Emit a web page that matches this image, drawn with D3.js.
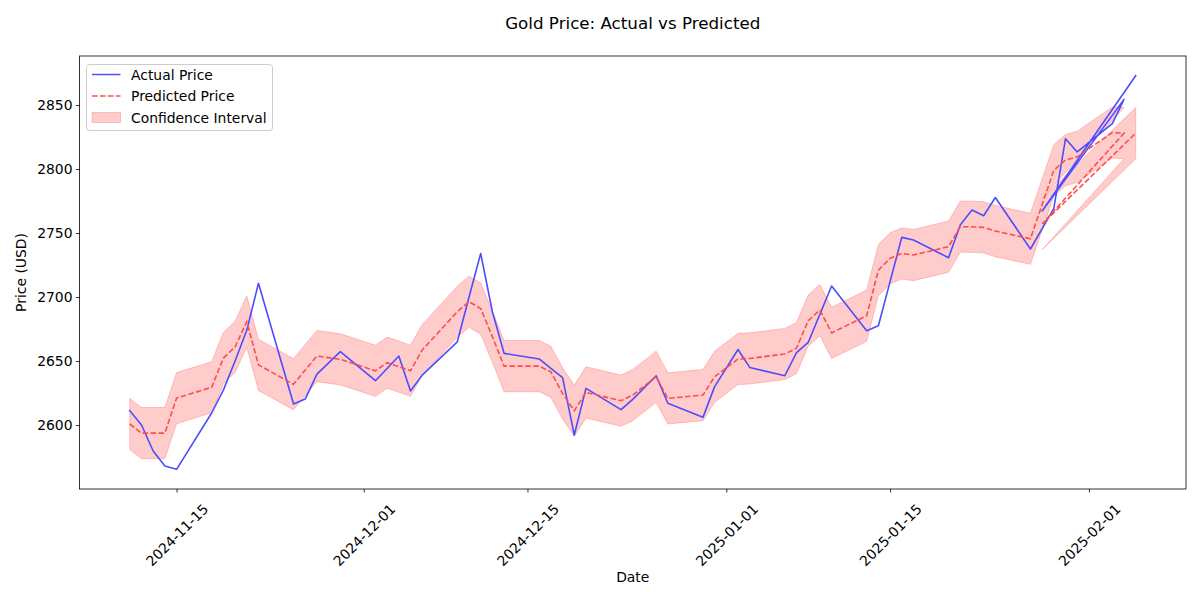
<!DOCTYPE html>
<html><head><meta charset="utf-8">
<script src="https://cdn.jsdelivr.net/npm/d3@7"></script>
<style>body{margin:0;background:#fff} svg{display:block} text{font-family:"DejaVu Sans",sans-serif;fill:#000}</style>
</head><body><svg id="c" width="1200" height="600"></svg>
<script>
const dates = ["2024-11-11","2024-11-12","2024-11-13","2024-11-14","2024-11-15","2024-11-18","2024-11-19","2024-11-20","2024-11-21","2024-11-22",
"2024-11-25","2024-11-26","2024-11-27","2024-11-29","2024-12-02","2024-12-03","2024-12-04","2024-12-05","2024-12-06","2024-12-09",
"2024-12-10","2024-12-11","2024-12-12","2024-12-13","2024-12-16","2024-12-17","2024-12-18","2024-12-19","2024-12-20","2024-12-23",
"2024-12-24","2024-12-26","2024-12-27","2024-12-30","2024-12-31","2025-01-02","2025-01-03","2025-01-06","2025-01-07","2025-01-08",
"2025-01-09","2025-01-10","2025-01-13","2025-01-14","2025-01-15","2025-01-16","2025-01-17","2025-01-20","2025-01-21","2025-01-22",
"2025-01-23","2025-01-24","2025-01-27","2025-01-29","2025-01-30","2025-01-31","2025-02-03","2025-02-04","2025-01-28","2025-02-05"];
const actual = [2611.2,2600.0,2579.7,2568.0,2565.4,2609.4,2627.3,2650.0,2674.0,2710.7,
2616.4,2620.3,2639.8,2657.3,2634.6,2644.2,2653.9,2626.6,2639.0,2665.0,
2699.8,2734.0,2688.5,2656.0,2651.6,2644.3,2637.0,2592.2,2628.6,2612.0,
2620.0,2638.5,2617.0,2606.0,2630.0,2659.0,2645.0,2638.5,2656.5,2664.5,
2686.5,2708.6,2673.7,2677.6,2712.0,2746.6,2744.5,2730.7,2756.3,2768.0,
2763.5,2777.7,2737.5,2769.3,2823.7,2813.3,2835.5,2854.4,2767.2,2872.9];
const predicted = [2600.8,2593.7,2593.7,2593.7,2621.0,2629.5,2652.3,2661.0,2680.7,2647.0,
2631.8,2643.0,2653.9,2651.3,2642.4,2648.7,2645.6,2642.4,2658.6,2688.5,
2696.3,2691.0,2669.0,2646.0,2646.0,2641.6,2624.7,2611.2,2625.5,2619.0,
2623.4,2637.7,2620.8,2623.4,2637.7,2651.6,2652.0,2655.5,2660.0,2681.5,
2689.8,2672.0,2685.4,2721.0,2730.2,2734.0,2732.8,2739.3,2754.9,2754.9,
2754.4,2751.5,2745.5,2799.0,2807.0,2809.5,2828.5,2828.0,2757.0,2828.0];
const ciLower = [2580.8,2573.7,2573.7,2573.7,2601.0,2609.5,2632.3,2641.0,2660.7,2627.0,
2611.8,2623.0,2633.9,2631.3,2622.4,2628.7,2625.6,2622.4,2638.6,2668.5,
2676.3,2671.0,2649.0,2626.0,2626.0,2621.6,2604.7,2591.2,2605.5,2599.0,
2603.4,2617.7,2600.8,2603.4,2617.7,2631.6,2632.0,2635.5,2640.0,2661.5,
2669.8,2652.0,2665.4,2701.0,2710.2,2714.0,2712.8,2719.3,2734.9,2734.9,
2734.4,2731.5,2725.5,2779.0,2787.0,2789.5,2808.5,2808.0,2737.0,2808.0];
const ciUpper = [2620.8,2613.7,2613.7,2613.7,2641.0,2649.5,2672.3,2681.0,2700.7,2667.0,
2651.8,2663.0,2673.9,2671.3,2662.4,2668.7,2665.6,2662.4,2678.6,2708.5,
2716.3,2711.0,2689.0,2666.0,2666.0,2661.6,2644.7,2631.2,2645.5,2639.0,
2643.4,2657.7,2640.8,2643.4,2657.7,2671.6,2672.0,2675.5,2680.0,2701.5,
2709.8,2692.0,2705.4,2741.0,2750.2,2754.0,2752.8,2759.3,2774.9,2774.9,
2774.4,2771.5,2765.5,2819.0,2827.0,2829.5,2848.5,2848.0,2777.0,2848.0];
const yTicks = [2600,2650,2700,2750,2800,2850];
const xTickLabels = ["2024-11-15","2024-12-01","2024-12-15","2025-01-01","2025-01-15","2025-02-01"];
const titleText = "Gold Price: Actual vs Predicted";
const legendLabels = ["Actual Price","Predicted Price","Confidence Interval"];

const parse = d3.utcParse("%Y-%m-%d");
const rows = dates.map((d,i)=>({t:parse(d),a:actual[i],p:predicted[i],lo:ciLower[i],hi:ciUpper[i]}));
const L=79.5,R=1186,T=56,B=489;
const tExt=d3.extent(rows,d=>d.t);
const tSpan=tExt[1]-tExt[0];
const x=d3.scaleUtc().domain([new Date(+tExt[0]-0.05*tSpan),new Date(+tExt[1]+0.05*tSpan)]).range([L,R]);
const allY=actual.concat(predicted,ciLower,ciUpper);
const yMin=d3.min(allY),yMax=d3.max(allY),ySpan=yMax-yMin;
const y=d3.scaleLinear().domain([yMin-0.05*ySpan,yMax+0.05*ySpan]).range([B,T]);

const svg=d3.select("#c");
svg.append("rect").attr("width",1200).attr("height",600).attr("fill","#fff");
svg.append("defs").append("clipPath").attr("id","pc").append("rect").attr("x",L).attr("y",T).attr("width",R-L).attr("height",B-T);
const g=svg.append("g").attr("clip-path","url(#pc)");

const area=d3.area().x(d=>x(d.t)).y0(d=>y(d.lo)).y1(d=>y(d.hi));
g.append("path").attr("d",area(rows)).attr("fill","rgba(255,0,0,0.2)").attr("stroke","rgba(255,0,0,0.2)").attr("stroke-width",1);
const la=d3.line().x(d=>x(d.t)).y(d=>y(d.a));
const lp=d3.line().x(d=>x(d.t)).y(d=>y(d.p));
g.append("path").attr("d",la(rows)).attr("fill","none").attr("stroke","rgb(77,77,255)").attr("stroke-width",1.6).attr("stroke-linejoin","round").attr("stroke-linecap","square");
g.append("path").attr("d",lp(rows)).attr("fill","none").attr("stroke","rgb(255,77,77)").attr("stroke-width",1.6).attr("stroke-dasharray","5.55,2.4");

// axes
const fs=13.9;
const xAxis=d3.axisBottom(x).tickValues(xTickLabels.map(parse)).tickSize(3.5).tickFormat(d3.utcFormat("%Y-%m-%d"));
const gx=svg.append("g").attr("transform",`translate(0,${B})`).call(xAxis);
gx.select(".domain").remove();
gx.selectAll(".tick line").attr("stroke","#000").attr("stroke-width",0.8);
gx.selectAll(".tick text").attr("font-size",fs).attr("font-family","DejaVu Sans").attr("fill","#000")
  .attr("text-anchor","middle").attr("dy",null).attr("y",null)
  .attr("dominant-baseline","central")
  .attr("transform","translate(0,46) rotate(-45)");
const yAxis=d3.axisLeft(y).tickValues(yTicks).tickSize(3.5).tickPadding(3.5).tickFormat(d3.format("d"));
const gy=svg.append("g").attr("transform",`translate(${L},0)`).call(yAxis);
gy.select(".domain").remove();
gy.selectAll(".tick line").attr("stroke","#000").attr("stroke-width",0.8);
gy.selectAll(".tick text").attr("font-size",fs).attr("font-family","DejaVu Sans").attr("fill","#000");
svg.append("rect").attr("x",L).attr("y",T).attr("width",R-L).attr("height",B-T).attr("fill","none").attr("stroke","#000").attr("stroke-width",0.8);

svg.append("text").attr("x",(L+R)/2).attr("y",23).attr("text-anchor","middle").attr("dominant-baseline","central").attr("font-size",16.7).text(titleText);
svg.append("text").attr("x",(L+R)/2).attr("y",577).attr("text-anchor","middle").attr("dominant-baseline","central").attr("font-size",fs).text("Date");
svg.append("text").attr("transform",`translate(21,${(T+B)/2}) rotate(-90)`).attr("text-anchor","middle").attr("dominant-baseline","central").attr("font-size",fs).text("Price (USD)");

// legend
const lg=svg.append("g");
lg.append("rect").attr("x",86.5).attr("y",64.5).attr("width",186).attr("height",66).attr("rx",3).attr("fill","rgba(255,255,255,0.8)").attr("stroke","#cccccc").attr("stroke-width",1);
const ry=[74.5,96,117.5];
lg.append("line").attr("x1",92).attr("x2",120.5).attr("y1",ry[0]).attr("y2",ry[0]).attr("stroke","rgb(77,77,255)").attr("stroke-width",1.5);
lg.append("line").attr("x1",92).attr("x2",120.5).attr("y1",ry[1]).attr("y2",ry[1]).attr("stroke","rgb(255,77,77)").attr("stroke-width",1.5).attr("stroke-dasharray","5.55,2.4");
lg.append("rect").attr("x",92).attr("y",ry[2]-5).attr("width",28.5).attr("height",10).attr("fill","rgba(255,0,0,0.2)").attr("stroke","rgba(255,0,0,0.2)").attr("stroke-width",1);
legendLabels.forEach((t,i)=>lg.append("text").attr("x",131).attr("y",ry[i]).attr("dominant-baseline","central").attr("font-size",fs).text(t));
</script></body></html>
